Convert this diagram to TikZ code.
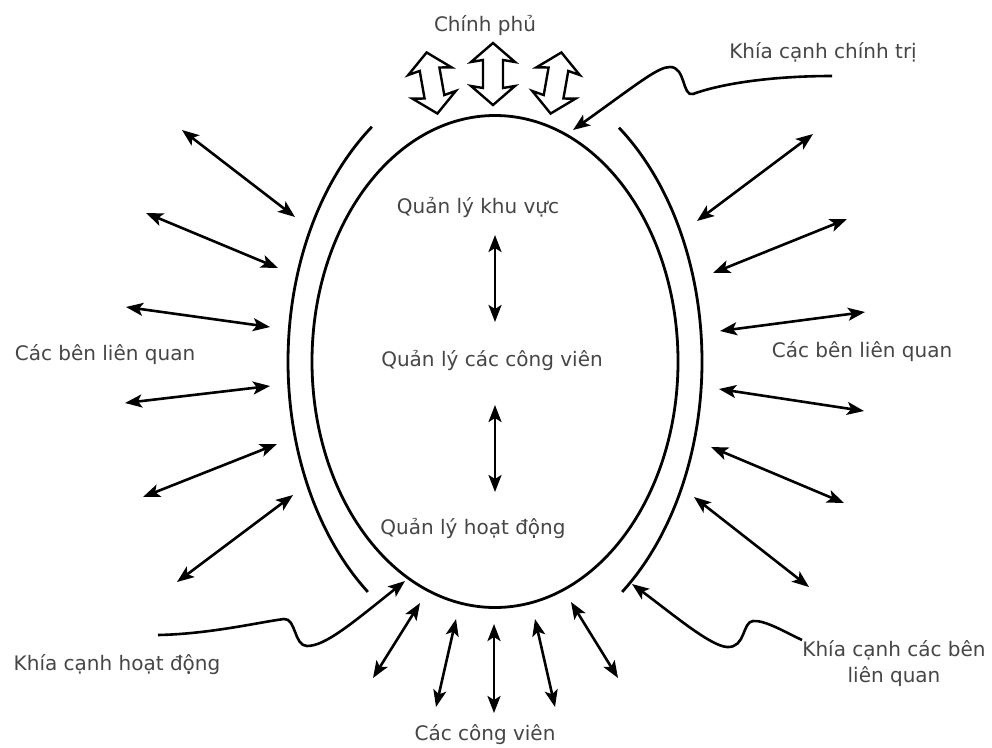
\documentclass[tikz,border=0pt]{standalone}
\usepackage{fontspec}
\newfontfamily\lab{DejaVu Sans}
\usetikzlibrary{arrows.meta,shapes.geometric}
\definecolor{txt}{RGB}{70,70,70}
\begin{document}
\begin{tikzpicture}[x=1pt,y=-1pt,
  lbl/.style={font=\lab\fontsize{20}{26}\selectfont, text=txt, inner sep=0pt, align=center},
  dbl/.style={line width=2.6pt, {Stealth[length=17pt,width=13pt,inset=4pt]}-{Stealth[length=17pt,width=13pt,inset=4pt]}},
  conn/.style={line width=2.6pt, -{Stealth[length=17pt,width=13pt,inset=4pt]}},
  ring/.style={line width=2.8pt},
  hollow/.style={line width=2.4pt, fill=white, line join=miter}
]
\useasboundingbox (0,0) rectangle (992,747);
\fill[white] (0,0) rectangle (992,747);

% central ellipse
\node[ellipse, draw, ring, minimum width=366pt, minimum height=492pt, inner sep=0pt] (core) at (495,361.5) {};

% outer arcs
\draw[ring] plot[smooth, domain=127.9:233.5, samples=60] ({495+207*cos(\x)},{361.5+292*sin(\x)});
\draw[ring] plot[smooth, domain=-53.2:52.1, samples=60] ({495+207*cos(\x)},{361.5+292*sin(\x)});

% hollow double arrows (government)
\foreach \cx/\cy/\ang in {432/83/10, 493/74/0, 556/83/-10}{
  \draw[hollow, shift={(\cx,\cy)}, rotate=\ang]
    (0,-31) -- (22,-12) -- (10,-14) -- (10,14) -- (22,12) -- (0,31)
    -- (-22,12) -- (-10,14) -- (-10,-14) -- (-22,-12) -- cycle;
}

% labels
\node[lbl] (gov)   at (485,25)  {Chính phủ};
\node[lbl] (polL)  at (823,52)  {Khía cạnh chính trị};
\node[lbl] (zone)  at (478,207) {Quản lý khu vực};
\node[lbl] (parks) at (492,360) {Quản lý các công viên};
\node[lbl] (ops)   at (473,528) {Quản lý hoạt động};
\node[lbl] (stkL)  at (105,355) {Các bên liên quan};
\node[lbl] (stkR)  at (862,352) {Các bên liên quan};
\node[lbl] (opsL)  at (117,665) {Khía cạnh hoạt động};
\node[lbl] (stkA)  at (894,664) {Khía cạnh các bên\\liên quan};
\node[lbl] (cv)    at (485,735) {Các công viên};

% inner arrows
\coordinate (i1a) at (495,235); \coordinate (i1b) at (495,322);
\coordinate (i2a) at (495,405); \coordinate (i2b) at (495,492);
\draw[dbl] (i1a) -- (i1b);
\draw[dbl] (i2a) -- (i2b);

% radial double arrows
\foreach \n/\ax/\ay/\bx/\by in {
  L1/182/130/295/217, L2/146/213/278/268, L3/126/307/270/327,
  L4/125/403/270/386, L5/143/497/277/444, L6/177/582/293/495,
  R1/813/134/697/221, R2/847/219/713/273, R3/865/312/720/331,
  R4/864/411/719/389, R5/844/503/711/447, R6/809/587/694/497,
  B1/420/603/373/678, B2/456/619/436/707, B3/494/624/494/713,
  B4/535/619/555/707, B5/571/602/618/678}{
  \coordinate (\n a) at (\ax,\ay);
  \coordinate (\n b) at (\bx,\by);
  \draw[dbl] (\n a) -- (\n b);
}

% aspect connectors
\coordinate (polS) at (832,76);   \coordinate (polT) at (573,130);
\coordinate (opsS) at (158,635);  \coordinate (opsT) at (405,581);
\coordinate (stkS) at (802,640);  \coordinate (stkT) at (632,584);
\draw[conn] (polS) .. controls (770,76) and (720,84) .. (693,94)
  .. controls (682,97) and (686,67) .. (670,67)
  .. controls (658,67) and (640,82) .. (polT);
\draw[conn] (opsS) .. controls (210,634) and (260,622) .. (284,619)
  .. controls (296,618) and (294,646) .. (307,646)
  .. controls (325,646) and (350,625) .. (opsT);
\draw[conn] (stkS) .. controls (785,632) and (765,620) .. (753,621)
  .. controls (742,622) and (746,648) .. (727,647)
  .. controls (710,646) and (670,612) .. (stkT);
\end{tikzpicture}
\end{document}
